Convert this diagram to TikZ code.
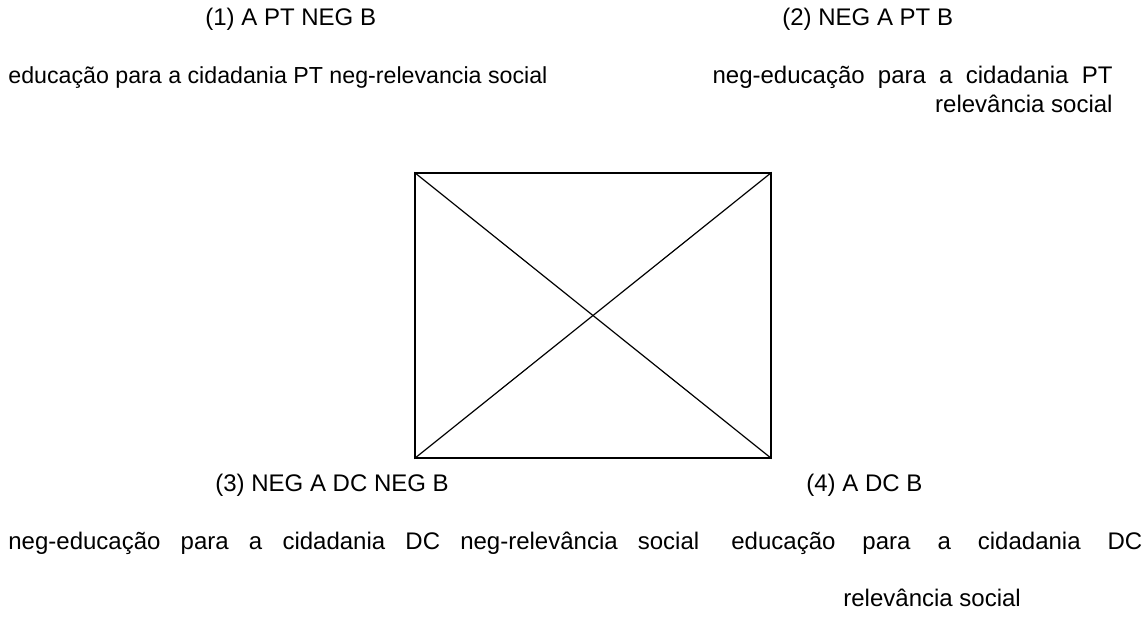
\documentclass[tikz,border=0pt]{standalone}
\usepackage{fontspec}
\setmainfont{Liberation Sans}
\begin{document}
\begin{tikzpicture}[x=0.5pt, y=-0.5pt]

\tikzstyle{term}=[inner sep=0pt, anchor=base west, font=\fontsize{12}{14}\selectfont]
\tikzstyle{square}=[draw=black, line width=0.6pt, minimum width=178pt, minimum height=142.5pt, inner sep=0pt]

\useasboundingbox (0,0) rectangle (1148,631);

\node[term] (t1) at (205,26) {(1) A PT NEG B};
\node[term] (t2) at (782,26) {(2) NEG A PT B};
\node[term, font=\fontsize{11.6}{14}\selectfont] (d1) at (8,84) {educação para a cidadania PT neg-relevancia social};
\node[term, anchor=base east] (d2) at (1113,84) {\makebox[200pt][s]{neg-educação para a cidadania PT}};
\node[term, anchor=base east] (d2b) at (1113,113) {relevância social};

\node[square] (sq) at (593,315.5) {};
\draw[line width=0.6pt] (sq.north west) -- (sq.south east);
\draw[line width=0.6pt] (sq.south west) -- (sq.north east);

\node[term] (t3) at (215,491) {(3) NEG A DC NEG B};
\node[term] (t4) at (806,491) {(4) A DC B};
\node[term] (d3) at (8,549) {\makebox[345.5pt][s]{neg-educação para a cidadania DC neg-relevância social}};
\node[term] (d4) at (731,549) {\makebox[205.5pt][s]{educação para a cidadania DC}};
\node[term] (d4b) at (843,606) {relevância social};

\end{tikzpicture}
\end{document}
